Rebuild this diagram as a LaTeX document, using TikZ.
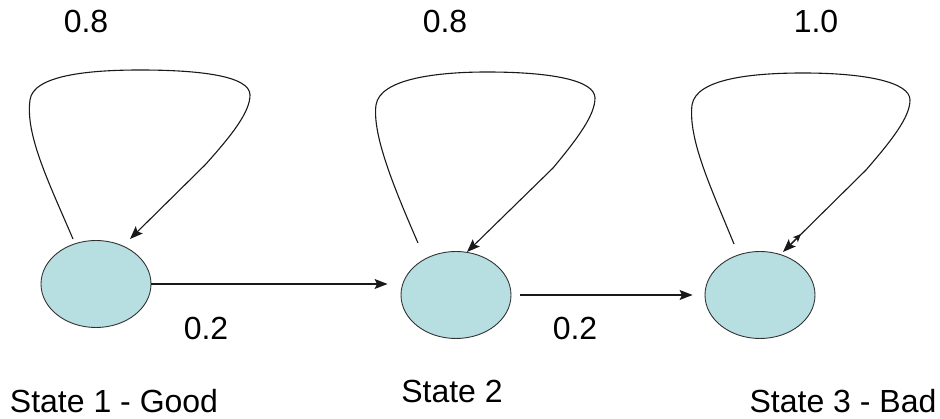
\documentclass[tikz,border=0pt]{standalone}
\usepackage{fontspec}
\setmainfont{Liberation Sans}
\usetikzlibrary{shapes.geometric,arrows.meta,calc}
\definecolor{statefill}{HTML}{B7DFE2}
\tikzset{
  state/.style={ellipse, draw=black!80, line width=0.9pt, fill=statefill, minimum width=110pt, minimum height=87pt, inner sep=0pt},
  lbl/.style={anchor=base, font=\fontsize{32}{37}\selectfont, inner sep=0pt},
  conn/.style={line width=1.1pt, draw=black!90},
  tip/.style={-{Stealth[length=13pt,width=10pt,inset=2.5pt]}}
}
\begin{document}
\begin{tikzpicture}[x=1pt,y=-1pt]
\useasboundingbox (0,0) rectangle (940,419);
\node[state] (s1) at (96,284) {};
\node[state] (s2) at (456,295) {};
\node[state] (s3) at (760,295) {};
% labels
\node[lbl] (p11) at (86,33) {0.8};
\node[lbl] (p22) at (445,33) {0.8};
\node[lbl] (p33) at (816,33) {1.0};
\node[lbl] (p12) at (206,340) {0.2};
\node[lbl] (p23) at (575,340) {0.2};
\node[lbl] (n1) at (114,413) {State 1 - Good};
\node[lbl] (n2) at (452,403) {State 2};
\node[lbl] (n3) at (843,413) {State 3 - Bad};
% transitions
\draw[conn,tip,shorten >=13pt] (s1.east) -- (s1.east -| s2.west);
\draw[conn,tip,shorten <=9pt,shorten >=12pt] (s2.east) -- (s3.west);
% self loops
\coordinate (a1) at ($(s1)+(-23,-45)$);
\coordinate (b1) at ($(s1)+(34,-45)$);
\coordinate (a2) at ($(s2)+(-38,-52)$);
\coordinate (b2) at ($(s2)+(11,-43)$);
\coordinate (a3) at ($(s3)+(-26,-51)$);
\coordinate (b3) at ($(s3)+(23,-43)$);
\draw[conn,tip] (a1) .. controls (50,185) and (25,135) .. (30,100)
  .. controls (33,75) and (90,70) .. (140,70)
  .. controls (200,70) and (250,76) .. (250,95)
  .. controls (250,112) and (232,135) .. (205,165) -- (b1);
\draw[conn,tip] (a2) .. controls (395,190) and (372,135) .. (376,105)
  .. controls (380,78) and (440,72) .. (487,72)
  .. controls (550,72) and (595,80) .. (595,98)
  .. controls (595,115) and (578,138) .. (553,168) -- (b2);
\draw[conn,tip] (a3) .. controls (712,190) and (688,140) .. (692,105)
  .. controls (696,78) and (755,73) .. (803,73)
  .. controls (865,73) and (910,82) .. (910,100)
  .. controls (910,117) and (892,140) .. (866,170) -- (b3);
\coordinate (x3a) at (790,245);
\coordinate (x3b) at (801,234);
\draw[conn,-{Stealth[length=8pt,width=7pt,inset=2pt]}] (x3a) -- (x3b);
\end{tikzpicture}
\end{document}
